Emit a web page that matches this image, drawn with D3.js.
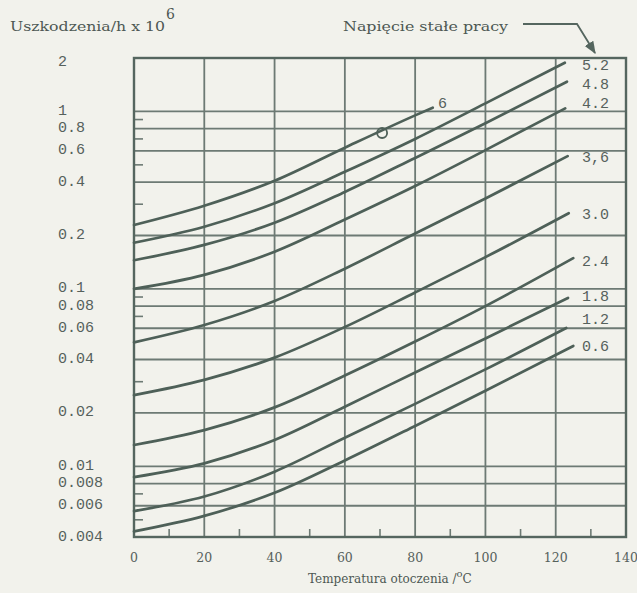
<!DOCTYPE html>
<html><head><meta charset="utf-8">
<script src="https://cdn.jsdelivr.net/npm/d3@7"></script>
<style>
html,body{margin:0;padding:0;background:#f2f2ec;}
svg{display:block;}
</style></head>
<body>
<svg id="c" width="637" height="593"></svg>
<script>
// ---- data ----
const temps = [0, 20, 40, 60, 80, 100];
const voltageLabels = ["6", "5.2", "4.8", "4.2", "3,6", "3.0", "2.4", "1.8", "1.2", "0.6"];
const rate_6   = [0.229, 0.294, 0.407, 0.625, 0.95];
const rate_5_2 = [0.182, 0.224, 0.304, 0.457, 0.70, 1.11];
const rate_4_8 = [0.145, 0.177, 0.236, 0.352, 0.547, 0.857];
const rate_4_2 = [0.100, 0.120, 0.162, 0.246, 0.380, 0.605];
const rate_3_6 = [0.050, 0.0626, 0.0855, 0.130, 0.205, 0.323];
const rate_3_0 = [0.0252, 0.0307, 0.041, 0.061, 0.0955, 0.151];
const rate_2_4 = [0.0132, 0.016, 0.0215, 0.0325, 0.0505, 0.080];
const rate_1_8 = [0.0087, 0.0104, 0.0141, 0.0217, 0.0338, 0.0526];
const rate_1_2 = [0.0056, 0.00676, 0.00934, 0.0145, 0.0225, 0.0352];
const rate_0_6 = [0.0043, 0.00526, 0.0071, 0.0108, 0.0169, 0.0267];
const endTemp = [85, 122.6, 123.2, 122.7, 123.4, 123.7, 125, 123.5, 123, 125];
const endRate = [1.05, 1.88, 1.47, 1.04, 0.56, 0.267, 0.149, 0.0889, 0.0602, 0.0477];
const labelTemp = [86.5, 127.5, 127.5, 127.5, 127.5, 127.5, 127.5, 127.5, 127.5, 127.5];
const labelRate = [1.087, 1.79, 1.40, 1.087, 0.54, 0.259, 0.14, 0.0889, 0.0664, 0.0465];
const markerTemp = [70.6];
const markerRate = [0.756];

const xTicks = [0, 20, 40, 60, 80, 100, 120, 140];
const xMinor = [10, 30, 50, 70, 90, 110, 130];
const yTickLabels = ["2", "1", "0.8", "0.6", "0.4", "0.2", "0.1", "0.08", "0.06", "0.04", "0.02", "0.01", "0.008", "0.006", "0.004"];
const yGrid = [1, 0.8, 0.6, 0.4, 0.2, 0.1, 0.08, 0.06, 0.04, 0.02, 0.01, 0.008, 0.006];
const yMinor = [0.9, 0.7, 0.5, 0.3, 0.09, 0.07, 0.03, 0.007, 0.005];

const allRates = [rate_6, rate_5_2, rate_4_8, rate_4_2, rate_3_6, rate_3_0, rate_2_4, rate_1_8, rate_1_2, rate_0_6];

// ---- drawing ----
const svg = d3.select("#c");
const L = 134, R = 626, T = 58, B = 537;
const x = d3.scaleLinear().domain([0, 140]).range([L, R]);
const y = d3.scaleLog().domain([0.004, 2]).range([B, T]);

const ink = "#55665f", gridInk = "#6d7a74", txt = "#56615c";

svg.append("rect").attr("width", 637).attr("height", 593).attr("fill", "#f2f2ec");

const g = svg.append("g");
// horizontal grid
g.selectAll(".hg").data(yGrid).join("line")
  .attr("x1", L).attr("x2", R).attr("y1", d => y(d)).attr("y2", d => y(d))
  .attr("stroke", gridInk).attr("stroke-width", 1.8);
// vertical grid
g.selectAll(".vg").data(xTicks.filter(d => d > 0 && d < 140)).join("line")
  .attr("y1", T).attr("y2", B).attr("x1", d => x(d)).attr("x2", d => x(d))
  .attr("stroke", gridInk).attr("stroke-width", 1.8);
// minor ticks
g.selectAll(".ym").data(yMinor).join("line")
  .attr("x1", L).attr("x2", L + 9).attr("y1", d => y(d)).attr("y2", d => y(d))
  .attr("stroke", gridInk).attr("stroke-width", 1.6);
g.selectAll(".xm").data(xMinor).join("line")
  .attr("x1", d => x(d)).attr("x2", d => x(d)).attr("y1", B).attr("y2", B - 8)
  .attr("stroke", gridInk).attr("stroke-width", 1.6);
// frame
g.append("rect").attr("x", L).attr("y", T).attr("width", R - L).attr("height", B - T)
  .attr("fill", "none").attr("stroke", ink).attr("stroke-width", 2.4);

// y tick labels
g.selectAll(".yl").data(yTickLabels).join("text")
  .attr("x", 58).attr("y", d => y(+d) + (d === "2" ? 4 : 0))
  .attr("dominant-baseline", "central")
  .attr("font-family", "Liberation Mono, monospace").attr("font-size", 15)
  .attr("fill", txt).text(d => d);

// x tick labels
g.selectAll(".xl").data(xTicks).join("text")
  .attr("x", d => x(d)).attr("y", 562)
  .attr("text-anchor", "middle")
  .attr("font-family", "DejaVu Serif, serif").attr("font-size", 12.5)
  .attr("fill", txt).text(d => d);

// curves
const line = d3.line().x(d => x(d[0])).y(d => y(d[1])).curve(d3.curveMonotoneX);
const series = allRates.map((r, i) => {
  const pts = r.map((v, j) => [temps[j], v]);
  pts.push([endTemp[i], endRate[i]]);
  return pts;
});
g.selectAll(".curve").data(series).join("path")
  .attr("d", line).attr("fill", "none")
  .attr("stroke", "#4e6058").attr("stroke-width", 2.7).attr("stroke-linecap", "round");

// curve labels
g.selectAll(".cl").data(voltageLabels).join("text")
  .attr("x", (d, i) => x(labelTemp[i])).attr("y", (d, i) => y(labelRate[i]))
  .attr("dominant-baseline", "central")
  .attr("font-family", "Liberation Mono, monospace").attr("font-size", 15)
  .attr("fill", txt).text(d => d);

// marker
g.selectAll(".mk").data(markerTemp).join("circle")
  .attr("cx", d => x(d)).attr("cy", (d, i) => y(markerRate[i])).attr("r", 5)
  .attr("fill", "none").attr("stroke", "#4e6058").attr("stroke-width", 1.8);

// titles
svg.append("text").attr("x", 10).attr("y", 31)
  .attr("font-family", "DejaVu Serif, serif").attr("font-size", 13.5)
  .attr("fill", "#4d5853").attr("textLength", 155).attr("lengthAdjust", "spacingAndGlyphs")
  .text("Uszkodzenia/h x 10");
svg.append("text").attr("x", 166).attr("y", 19)
  .attr("font-family", "DejaVu Serif, serif").attr("font-size", 14)
  .attr("fill", "#4d5853").text("6");

svg.append("text").attr("x", 343).attr("y", 31)
  .attr("font-family", "DejaVu Serif, serif").attr("font-size", 13)
  .attr("fill", "#4d5853").attr("textLength", 165).attr("lengthAdjust", "spacingAndGlyphs")
  .text("Napięcie stałe pracy");

const xt = svg.append("text").attr("x", 308).attr("y", 583)
  .attr("font-family", "DejaVu Serif, serif").attr("font-size", 12)
  .attr("fill", "#4d5853");
xt.append("tspan").text("Temperatura otoczenia /");
xt.append("tspan").attr("dy", -6).attr("font-size", 10).text("o");
xt.append("tspan").attr("dy", 6).text("C");

// arrow
svg.append("defs").append("marker").attr("id", "ah")
  .attr("viewBox", "0 0 10 10").attr("refX", 9).attr("refY", 5)
  .attr("markerWidth", 7).attr("markerHeight", 7).attr("orient", "auto-start-reverse")
  .append("path").attr("d", "M0,1 L10,5 L0,9 Z").attr("fill", ink);
svg.append("path").attr("d", "M523,24 L577,24 L595,53")
  .attr("fill", "none").attr("stroke", ink).attr("stroke-width", 1.8)
  .attr("marker-end", "url(#ah)");
</script>
</body></html>
